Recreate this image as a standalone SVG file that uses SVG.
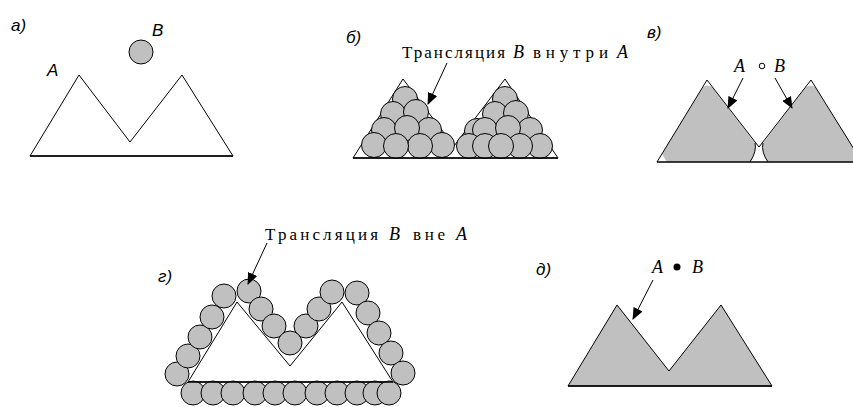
<svg xmlns="http://www.w3.org/2000/svg" width="853" height="407" viewBox="0 0 853 407">
<style>
.bg{fill:#fff}
.shp{fill:#fff;stroke:#000;stroke-width:1}
.gshp{fill:#c0c0c0;stroke:#000;stroke-width:1}
.gfill{fill:#c0c0c0;stroke:none}
.edge{fill:none;stroke:#000;stroke-width:1}
.base{fill:none;stroke:#000;stroke-width:1.6}
.c{fill:#c0c0c0;stroke:#000;stroke-width:1}
.plab{font-family:"Liberation Sans",Arial,sans-serif;font-style:italic;font-size:17px;fill:#000}
.t{font-family:"Liberation Serif","Times New Roman",serif;font-size:17px;fill:#000}
.ti{font-family:"Liberation Serif","Times New Roman",serif;font-style:italic;font-size:18px;fill:#000}
.arr{fill:none;stroke:#000;stroke-width:1;marker-end:url(#ah)}
</style>
<defs>
<marker id="ah" markerUnits="userSpaceOnUse" markerWidth="12" markerHeight="10" refX="11" refY="5" orient="auto">
<path d="M0,0 L12,5 L0,10 Z" fill="#000"/>
</marker>
</defs>
<rect class="bg" x="0" y="0" width="853" height="407"/>

<g id="panel-a">
<text class="plab" x="11" y="31">а)</text>
<polygon class="shp" points="30,156 79,75 130,142 182,75 233,156"/>
<line class="base" x1="30" y1="156" x2="233" y2="156"/>
<text class="plab" x="47" y="76" font-size="18">A</text>
<circle class="c" cx="141" cy="52" r="12" stroke="#444"/>
<text class="plab" x="152" y="36" font-size="18">B</text>
</g>

<g id="panel-b">
<text class="plab" x="346" y="43">б)</text>
<polygon class="shp" points="353,158 403,79 454,146 505,79 558,158"/>
<g id="circles-b-left">
<circle class="c" cx="405" cy="99" r="12.5"/>
<circle class="c" cx="393" cy="114" r="12.5"/>
<circle class="c" cx="416" cy="112" r="12.5"/>
<circle class="c" cx="384" cy="130" r="12.5"/>
<circle class="c" cx="429" cy="130" r="12.5"/>
<circle class="c" cx="407" cy="128" r="12.5"/>
<circle class="c" cx="374" cy="145" r="12.5"/>
<circle class="c" cx="442" cy="145" r="12.5"/>
<circle class="c" cx="420" cy="146" r="12.5"/>
<circle class="c" cx="396" cy="146" r="12.5"/>
</g>
<g id="circles-b-right">
<circle class="c" cx="505" cy="99" r="12.5"/>
<circle class="c" cx="495" cy="114" r="12.5"/>
<circle class="c" cx="516" cy="113" r="12.5"/>
<circle class="c" cx="477" cy="131" r="12.5"/>
<circle class="c" cx="530" cy="130" r="12.5"/>
<circle class="c" cx="485" cy="130" r="12.5"/>
<circle class="c" cx="508" cy="128" r="12.5"/>
<circle class="c" cx="469" cy="146" r="12.5"/>
<circle class="c" cx="540" cy="146" r="12.5"/>
<circle class="c" cx="485" cy="146" r="12.5"/>
<circle class="c" cx="520" cy="146" r="12.5"/>
<circle class="c" cx="501" cy="146" r="12.5"/>
</g>
<line class="base" x1="353" y1="158" x2="558" y2="158"/>
<text class="t" x="402" y="58" textLength="103" lengthAdjust="spacing">Трансляция</text>
<text class="ti" x="513" y="58">B</text>
<text class="t" x="533" y="58" textLength="75" lengthAdjust="spacing">внутри</text>
<text class="ti" x="617" y="58">A</text>
</g>

<g id="panel-c">
<text class="plab" x="647" y="38">в)</text>
<path class="gfill" d="M667,162 L662,154 L703,87 Q707,84 712,87 L755,143 Q757,151 750,162 Z"/>
<path class="gfill" d="M768,162 Q761,152 763,143 L806,87 Q811,84 815,87 L853,147 L853,162 Z"/>
<polyline class="edge" points="657,162 707,80 759,147 811,80 862,162"/>
<path class="edge" d="M750,162 Q757,151 755,143 M768,162 Q761,152 763,143"/>
<line class="base" x1="657" y1="162" x2="853" y2="162"/>
<text class="ti" x="734" y="72">A</text>
<circle cx="762" cy="66" r="2.8" fill="none" stroke="#000" stroke-width="1"/>
<text class="ti" x="774" y="72">B</text>
</g>

<g id="panel-d">
<text class="plab" x="158" y="282">г)</text>
<polygon class="shp" points="188,382 237,302 290,366 342,302 393,382"/>
<g id="circles-d">
<circle class="c" cx="177" cy="374" r="12"/>
<circle class="c" cx="188" cy="356" r="12"/>
<circle class="c" cx="200" cy="337" r="12"/>
<circle class="c" cx="212" cy="317" r="12"/>
<circle class="c" cx="224" cy="296" r="12"/>
<circle class="c" cx="249" cy="291" r="12"/>
<circle class="c" cx="261" cy="309" r="12"/>
<circle class="c" cx="274" cy="326" r="12"/>
<circle class="c" cx="306" cy="326" r="12"/>
<circle class="c" cx="319" cy="309" r="12"/>
<circle class="c" cx="290" cy="343" r="12"/>
<circle class="c" cx="332" cy="292" r="12"/>
<circle class="c" cx="357" cy="293" r="12"/>
<circle class="c" cx="368" cy="313" r="12"/>
<circle class="c" cx="379" cy="333" r="12"/>
<circle class="c" cx="391" cy="353" r="12"/>
<circle class="c" cx="403" cy="373" r="12"/>
<circle class="c" cx="193" cy="393" r="12"/>
<circle class="c" cx="213" cy="393" r="12"/>
<circle class="c" cx="233" cy="393" r="12"/>
<circle class="c" cx="255" cy="393" r="12"/>
<circle class="c" cx="275" cy="393" r="12"/>
<circle class="c" cx="295" cy="393" r="12"/>
<circle class="c" cx="317" cy="393" r="12"/>
<circle class="c" cx="337" cy="393" r="12"/>
<circle class="c" cx="357" cy="393" r="12"/>
<circle class="c" cx="375" cy="393" r="12"/>
<circle class="c" cx="389" cy="393" r="12"/>
</g>
<line class="base" x1="188" y1="382" x2="393" y2="382" stroke-width="2"/>
<text class="t" x="265" y="240" textLength="113" lengthAdjust="spacing">Трансляция</text>
<text class="ti" x="389" y="240">B</text>
<text class="t" x="413" y="240" textLength="32" lengthAdjust="spacing">вне</text>
<text class="ti" x="456" y="240">A</text>
</g>

<g id="panel-e">
<text class="plab" x="536" y="275">д)</text>
<polygon class="gshp" points="568,386 617,305 669,371 721,305 772,386"/>
<line class="base" x1="568" y1="386" x2="772" y2="386"/>
<text class="ti" x="652" y="273">A</text>
<circle cx="677" cy="267" r="3.5" fill="#000"/>
<text class="ti" x="692" y="273">B</text>
</g>

<g id="connectors">
<line class="arr" x1="447" y1="63" x2="428" y2="104"/>
<line class="arr" x1="743" y1="78" x2="728" y2="108"/>
<line class="arr" x1="775" y1="78" x2="792" y2="108"/>
<line class="arr" x1="267" y1="243" x2="248" y2="284"/>
<line class="arr" x1="653" y1="280" x2="633" y2="319"/>
</g>
</svg>
